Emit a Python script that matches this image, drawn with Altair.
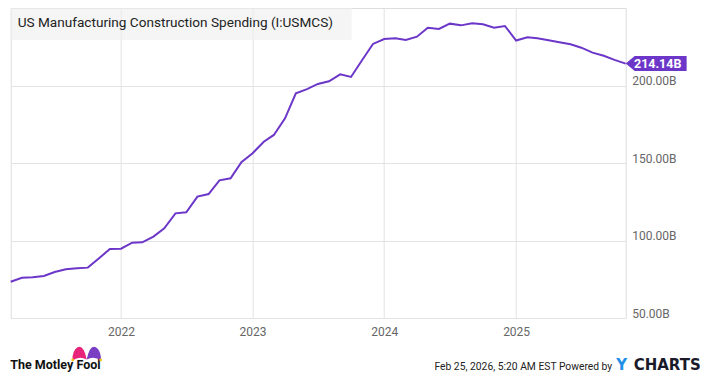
import altair as alt
import pandas as pd

# Monthly values, Mar 2021 .. Nov 2025 (billions USD)
v2021 = [73.4, 76.0, 76.3, 77.1, 79.7, 81.4, 82.1, 82.5, 88.5, 94.5]
v2022 = [94.7, 98.6, 98.8, 102.5, 107.9, 117.5, 118.2, 128.3, 130.0, 138.8, 140.1, 150.5]
v2023 = [156.3, 163.7, 168.1, 178.8, 195.0, 197.7, 201.0, 202.7, 207.2, 205.5, 216.5, 226.8]
v2024 = [230.0, 230.5, 229.4, 231.5, 237.3, 236.5, 239.9, 238.8, 240.1, 239.5, 237.3, 238.4]
v2025 = [229.0, 231.1, 230.5, 229.2, 227.9, 226.6, 224.4, 221.2, 219.2, 216.5, 214.14]
values = v2021 + v2022 + v2023 + v2024 + v2025
dates = [d.strftime("%Y-%m-%d") for d in pd.date_range("2021-03-01", periods=len(values), freq="MS")]

y_ticks = [50, 100, 150, 200]
x_tick_years = [2022, 2023, 2024, 2025]
title_text = "US Manufacturing Construction Spending (I:USMCS)"
last_label = "214.14B"
footer_text = "Feb 25, 2026, 5:20 AM EST Powered by"

PURPLE = "#6c37c9"

df = pd.DataFrame({"date": dates, "value": values})
last_df = df.tail(1).assign(label=last_label)
one = pd.DataFrame({"k": [0]})

xscale = alt.Scale(type="utc", domain=[alt.DateTime(year=2021, month=3, date=1, utc=True),
                                       alt.DateTime(year=2025, month=11, date=1, utc=True)])
yscale = alt.Scale(domain=[50, 250], nice=False, zero=False)

x_enc = alt.X("date:T", scale=xscale, title=None,
              axis=alt.Axis(values=[alt.DateTime(year=y, month=1, date=1, utc=True) for y in x_tick_years],
                            labelExpr="utcFormat(datum.value, '%Y')", ticks=False, domain=False,
                            labelPadding=8, labelColor="#666", labelFontSize=12, labelFont="Roboto",
                            gridColor="#e3e3e3", gridWidth=1))
y_enc = alt.Y("value:Q", scale=yscale, title=None,
              axis=alt.Axis(orient="right", values=y_ticks, labelExpr="format(datum.value, '.2f') + 'B'",
                            ticks=False, domain=False, labelPadding=6, labelAlign="left",
                            labelBaseline="alphabetic", labelOffset=-1,
                            labelColor="#666", labelFontSize=12, labelFont="Roboto",
                            gridColor="#e3e3e3", gridWidth=1))

line = alt.Chart(df).mark_line(color=PURPLE, strokeWidth=2).encode(x=x_enc, y=y_enc)

ann = alt.Chart(one)
title_box = ann.mark_rect(fill="#eeeeee", opacity=0.6).encode(
    x=alt.value(0), x2=alt.value(341), y=alt.value(0), y2=alt.value(32))
title = ann.mark_text(align="left", baseline="middle", font="Roboto", fontWeight="normal",
                      fontSize=13.6, color="#222").encode(
    x=alt.value(7), y=alt.value(15), text=alt.value(title_text))

tag_path = "M0,0 L0.3,-0.25 L2.03,-0.25 L2.03,0.25 L0.3,0.25 Z"
tag = alt.Chart(last_df).mark_point(shape=tag_path, size=3600, filled=True, opacity=1,
                                    color=PURPLE, strokeWidth=0).encode(
    x=alt.X("date:T", scale=xscale), y=alt.Y("value:Q", scale=yscale))
tag_text = alt.Chart(last_df).mark_text(align="center", baseline="middle", dx=32, dy=0,
                                        font="Roboto", fontWeight="bold", fontSize=12.5, color="white").encode(
    x=alt.X("date:T", scale=xscale), y=alt.Y("value:Q", scale=yscale), text="label:N")

# Footer
fool_text = ann.mark_text(align="left", baseline="alphabetic", font="Roboto", fontWeight="bold",
                          fontSize=12.5, color="#111").encode(
    x=alt.value(-0.5), y=alt.value(361), text=alt.value("The Motley Fool"))
pink_lobe = "M0,0.5 Q-0.3,-1.0 -0.9,-0.7 Q-1.4,-0.4 -1.4,0.6 Q-0.7,0.1 0,0.5 Z"
purple_lobe = "M0,0.5 Q0.3,-1.0 0.9,-0.7 Q1.4,-0.4 1.4,0.6 Q0.7,0.1 0,0.5 Z"
hat_pink = ann.mark_point(shape=pink_lobe, size=420, filled=True, opacity=1, color="#e8247a",
                          strokeWidth=0).encode(x=alt.value(76.0), y=alt.value(346.5))
hat_purple = ann.mark_point(shape=purple_lobe, size=420, filled=True, opacity=1, color="#7b3fc4",
                            strokeWidth=0).encode(x=alt.value(76.0), y=alt.value(346.5))
dot_l = ann.mark_point(shape="circle", size=8, filled=True, opacity=1, color="#f2c318").encode(
    x=alt.value(62), y=alt.value(352))
dot_r = ann.mark_point(shape="circle", size=8, filled=True, opacity=1, color="#f2c318").encode(
    x=alt.value(90), y=alt.value(352))

footer = ann.mark_text(align="right", baseline="middle", font="Roboto", fontSize=10.3, color="#222").encode(
    x=alt.value(601.5), y=alt.value(358.5), text=alt.value(footer_text))
ych_y = ann.mark_text(align="left", baseline="middle", font="DejaVu Sans", fontWeight="bold",
                      fontSize=15, color="#1e8fe6").encode(
    x=alt.value(605.5), y=alt.value(356.5), text=alt.value("Y"))
ych_rest = ann.mark_text(align="left", baseline="middle", font="DejaVu Sans", fontWeight="bold",
                         fontSize=15, color="#1a1a2a").encode(
    x=alt.value(623), y=alt.value(356.5), text=alt.value("CHARTS"))

chart = alt.layer(
    title_box, line, title, tag, tag_text,
    fool_text, hat_pink, hat_purple, dot_l, dot_r, footer, ych_y, ych_rest
).properties(
    width=615, height=310,
    padding={"left": 2.7, "top": 0, "right": 86.3, "bottom": 54},
    autosize=alt.AutoSizeParams(type="none"),
).configure_view(stroke="#cccccc", strokeWidth=1).configure(font="Roboto")

chart.save("out.html", embed_options={"renderer": "svg", "actions": False})
